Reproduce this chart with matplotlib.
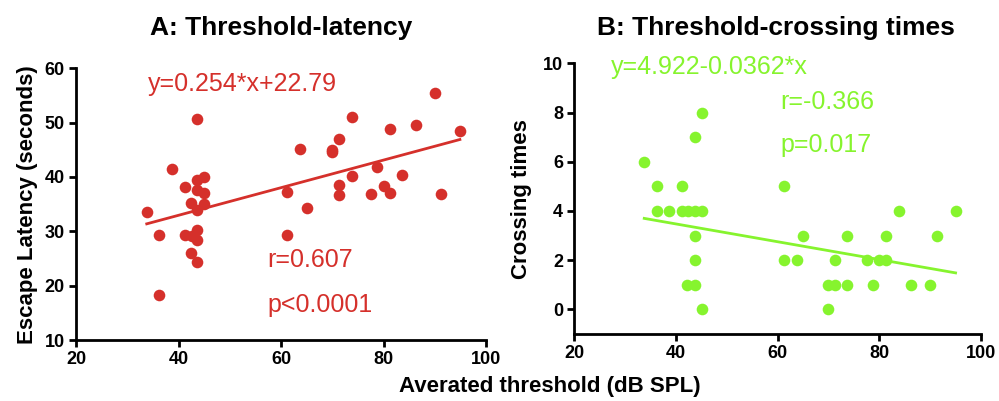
import matplotlib
matplotlib.use("Agg")
import matplotlib.pyplot as plt
import numpy as np

plt.rcParams['font.family'] = ['Liberation Sans', 'DejaVu Sans']

# Panel A: threshold vs escape latency
thr_a = [33.8, 36.2, 36.2, 38.8, 41.3, 41.3, 42.4, 42.4, 42.6, 43.7, 43.7, 43.7,
         43.7, 43.7, 43.7, 43.7, 45.0, 45.0, 45.0, 61.2, 61.2, 63.7, 65.0, 70.0,
         70.0, 71.3, 71.3, 71.3, 73.8, 73.8, 77.5, 78.7, 80.0, 81.3, 81.3, 83.7,
         86.3, 90.0, 91.2, 94.9]
lat_a = [33.5, 29.4, 18.2, 41.5, 38.2, 29.3, 35.2, 26.1, 29.2, 50.6, 39.4, 37.6,
         33.9, 30.2, 28.4, 24.4, 40.0, 37.1, 35.0, 37.2, 29.4, 45.1, 34.3, 45.0,
         44.6, 46.9, 38.5, 36.7, 51.1, 40.2, 36.8, 41.8, 38.3, 48.9, 37.0, 40.4,
         49.6, 55.5, 36.8, 48.4]
slope_a, icpt_a = 0.254, 22.79

# Panel B: threshold vs crossing times
thr_b = [33.8, 36.3, 36.3, 38.7, 41.3, 41.3, 42.5, 43.7, 45.1, 43.7, 45.1, 43.7,
         43.7, 42.3, 43.7, 45.1, 61.3, 61.3, 63.8, 65.1, 70.0, 70.0, 71.3, 71.3,
         73.7, 73.7, 77.5, 78.7, 80.0, 81.3, 81.3, 83.8, 86.2, 90.0, 91.3, 95.0]
cross_b = [6, 5, 4, 4, 5, 4, 4, 4, 4, 7, 8, 3,
           2, 1, 1, 0, 5, 2, 2, 3, 1, 0, 1, 2,
           3, 1, 2, 1, 2, 2, 3, 4, 1, 1, 3, 4]
icpt_b, slope_b = 4.922, -0.0362

red = '#D5302B'
green = '#86F42E'

fig = plt.figure(figsize=(9.99, 4.01), dpi=100)
axA = fig.add_axes([0.0761, 0.1521, 0.4104, 0.6776])
axB = fig.add_axes([0.5746, 0.1671, 0.4074, 0.6750])

def style(ax):
    for s in ['top', 'right']:
        ax.spines[s].set_visible(False)
    for s in ['left', 'bottom']:
        ax.spines[s].set_linewidth(2)
    ax.tick_params(direction='out', length=5, width=2, labelsize=13, pad=3)
    for lab in ax.get_xticklabels() + ax.get_yticklabels():
        lab.set_fontweight('bold')

# Panel A
axA.scatter(thr_a, lat_a, s=70, color=red, zorder=3, linewidths=0)
xa = np.array([min(thr_a), max(thr_a)])
axA.plot(xa, slope_a * xa + icpt_a, color=red, lw=2)
axA.set_xlim(20, 100)
axA.set_ylim(10, 60)
axA.set_xticks([20, 40, 60, 80, 100])
axA.set_yticks([10, 20, 30, 40, 50, 60])
style(axA)
axA.set_ylabel('Escape Latency (seconds)', fontsize=16, fontweight='bold', labelpad=5)
axA.text(34.1, 57.2, 'y=0.254*x+22.79', color=red, fontsize=18, va='center', ha='left')
axA.text(57.4, 24.7, 'r=0.607', color=red, fontsize=18, va='center', ha='left')
axA.text(57.4, 16.4, 'p<0.0001', color=red, fontsize=18, va='center', ha='left')
fig.text(0.281, 0.930, 'A: Threshold-latency', fontsize=19, fontweight='bold', ha='center', va='center')

# Panel B
axB.scatter(thr_b, cross_b, s=70, color=green, zorder=3, linewidths=0)
xb = np.array([min(thr_b), max(thr_b)])
axB.plot(xb, icpt_b + slope_b * xb, color=green, lw=2)
axB.set_xlim(20, 100)
axB.set_ylim(-1, 10)
axB.set_xticks([20, 40, 60, 80, 100])
axB.set_yticks([0, 2, 4, 6, 8, 10])
style(axB)
axB.set_ylabel('Crossing times', fontsize=16, fontweight='bold', labelpad=8)
axB.text(27.2, 9.86, 'y=4.922-0.0362*x', color=green, fontsize=18, va='center', ha='left')
axB.text(60.6, 8.43, 'r=-0.366', color=green, fontsize=18, va='center', ha='left')
axB.text(60.6, 6.67, 'p=0.017', color=green, fontsize=18, va='center', ha='left')
fig.text(0.777, 0.930, 'B: Threshold-crossing times', fontsize=19, fontweight='bold', ha='center', va='center')

fig.text(0.55, 0.037, 'Averated threshold (dB SPL)', fontsize=16, fontweight='bold', ha='center', va='center')

fig.savefig('out.png', dpi=100)
